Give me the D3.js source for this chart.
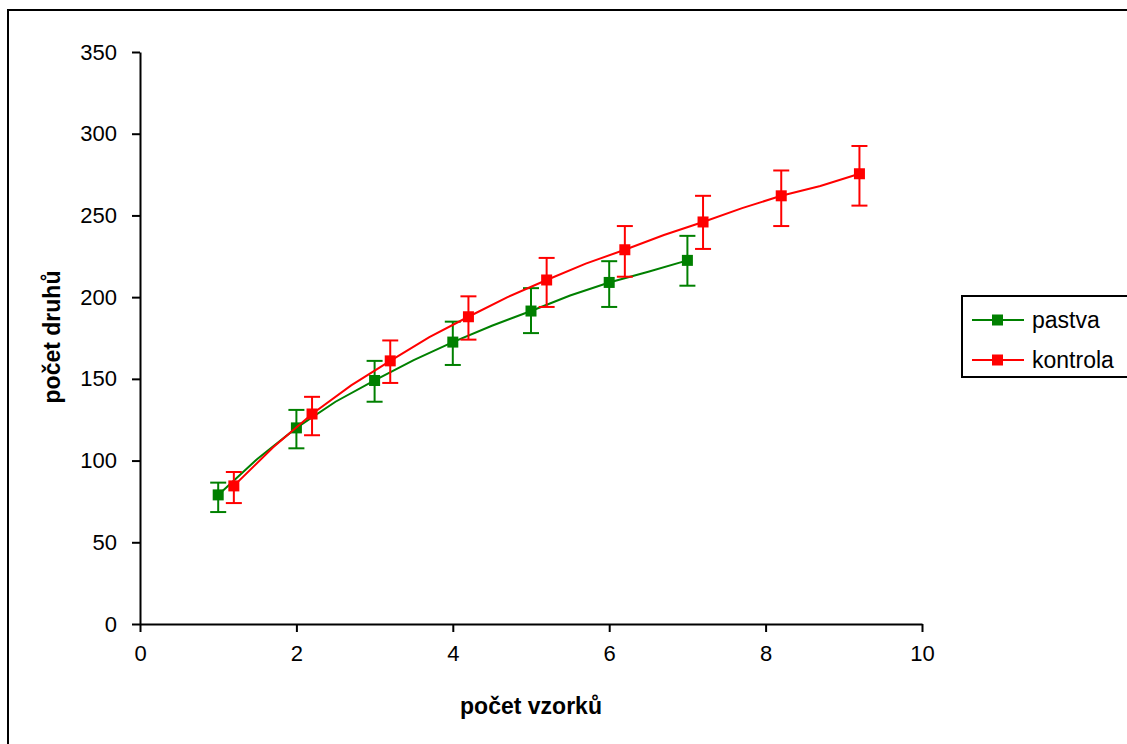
<!DOCTYPE html>
<html><head><meta charset="utf-8">
<script src="https://cdn.jsdelivr.net/npm/d3@7"></script>
<style>body{margin:0;background:#fff}svg{display:block}text{font-family:"Liberation Sans",Arial,sans-serif;fill:#000}</style>
</head><body>
<svg id="c" width="1127" height="744"></svg>
<script>
// marker data
const pastvaX = [1, 2, 3, 4, 5, 6, 7];
const pastvaY = [79, 120, 149, 172.5, 191.5, 209, 222.5];
const pastvaLow = [68.5, 107.5, 136, 158.5, 178, 194, 207];
const pastvaHigh = [86.5, 131, 161, 185, 205.5, 222, 237.5];
const kontrolaX = [1.2, 2.2, 3.2, 4.2, 5.2, 6.2, 7.2, 8.2, 9.2];
const kontrolaY = [84.5, 128.5, 161, 188, 210.5, 229, 246, 262, 275.5];
const kontrolaLow = [74, 115.5, 147.5, 174, 194, 212.5, 229.5, 243.5, 256];
const kontrolaHigh = [93, 139, 173.5, 200.5, 224, 243.5, 262, 277.5, 292.5];
// curve points (line drawn through intermediate points too)
const pastvaLineX = [1, 1.5, 2, 2.5, 3, 3.5, 4, 4.5, 5, 5.5, 6, 6.5, 7];
const pastvaLineY = [79, 101, 120, 136, 149, 161.5, 172.5, 182.5, 191.5, 201, 209, 215.5, 222.5];
const kontrolaLineX = [1.2, 1.7, 2.2, 2.7, 3.2, 3.7, 4.2, 4.7, 5.2, 5.7, 6.2, 6.7, 7.2, 7.7, 8.2, 8.7, 9.2];
const kontrolaLineY = [84.5, 108, 128.5, 146, 161, 175.5, 188, 200, 210.5, 220.5, 229, 238, 246, 254.5, 262, 268, 275.5];
const xTicks = [0, 2, 4, 6, 8, 10];
const yTicks = [0, 50, 100, 150, 200, 250, 300, 350];
const seriesNames = ["pastva", "kontrola"];
const seriesColors = ["#008000", "#FF0000"];

const svg = d3.select("#c");
const x = d3.scaleLinear().domain([0, 10]).range([140, 922]);
const y = d3.scaleLinear().domain([0, 350]).range([624, 52]);

// outer border
svg.append("rect").attr("x", 8).attr("y", 10).attr("width", 1140).attr("height", 760)
  .attr("fill", "none").attr("stroke", "#000").attr("stroke-width", 2);

const fs = "22px";
const gx = svg.append("g").attr("transform", "translate(0,624)")
  .call(d3.axisBottom(x).tickValues(xTicks).tickSize(8).tickSizeOuter(0).tickPadding(13));
const gy = svg.append("g").attr("transform", "translate(140,0)")
  .call(d3.axisLeft(y).tickValues(yTicks).tickSize(8).tickSizeOuter(0).tickPadding(15));
[gx, gy].forEach(g => {
  g.selectAll("path,line").attr("stroke", "#000").attr("stroke-width", 2);
  g.selectAll("text").style("font-size", fs).style("font-family", '"Liberation Sans",Arial,sans-serif').attr("fill", "#000");
});

// axis titles
svg.append("text").attr("x", 531).attr("y", 714).attr("text-anchor", "middle")
  .style("font-size", "23px").style("font-weight", "bold").text("počet vzorků");
svg.append("text").attr("transform", "translate(60,337) rotate(-90)").attr("text-anchor", "middle")
  .style("font-size", "23px").style("font-weight", "bold").text("počet druhů");

const series = [
  {lx: pastvaLineX, ly: pastvaLineY, mx: pastvaX, my: pastvaY, lo: pastvaLow, hi: pastvaHigh, c: seriesColors[0]},
  {lx: kontrolaLineX, ly: kontrolaLineY, mx: kontrolaX, my: kontrolaY, lo: kontrolaLow, hi: kontrolaHigh, c: seriesColors[1]}
];
const line = d3.line().x(d => x(d[0])).y(d => y(d[1]));
series.forEach(s => {
  svg.append("path").datum(s.lx.map((v, i) => [v, s.ly[i]]))
    .attr("d", line).attr("fill", "none").attr("stroke", s.c).attr("stroke-width", 2);
  const g = svg.append("g");
  s.mx.forEach((v, i) => {
    const cx = x(v);
    g.append("line").attr("x1", cx).attr("x2", cx).attr("y1", y(s.lo[i])).attr("y2", y(s.hi[i]))
      .attr("stroke", s.c).attr("stroke-width", 2);
    [s.lo[i], s.hi[i]].forEach(e => g.append("line").attr("x1", cx - 8).attr("x2", cx + 8)
      .attr("y1", y(e)).attr("y2", y(e)).attr("stroke", s.c).attr("stroke-width", 2));
    g.append("rect").attr("x", cx - 5.5).attr("y", y(s.my[i]) - 5.5).attr("width", 11).attr("height", 11)
      .attr("fill", s.c);
  });
});

// legend
const lg = svg.append("g");
lg.append("rect").attr("x", 962).attr("y", 296).attr("width", 166).attr("height", 81)
  .attr("fill", "#fff").attr("stroke", "#000").attr("stroke-width", 2);
seriesNames.forEach((n, i) => {
  const yy = 320 + i * 40;
  lg.append("line").attr("x1", 972).attr("x2", 1024).attr("y1", yy).attr("y2", yy)
    .attr("stroke", seriesColors[i]).attr("stroke-width", 2);
  lg.append("rect").attr("x", 992).attr("y", yy - 5.5).attr("width", 11).attr("height", 11).attr("fill", seriesColors[i]);
  lg.append("text").attr("x", 1032).attr("y", yy + 8).style("font-size", "23px").text(n);
});
</script>
</body></html>
